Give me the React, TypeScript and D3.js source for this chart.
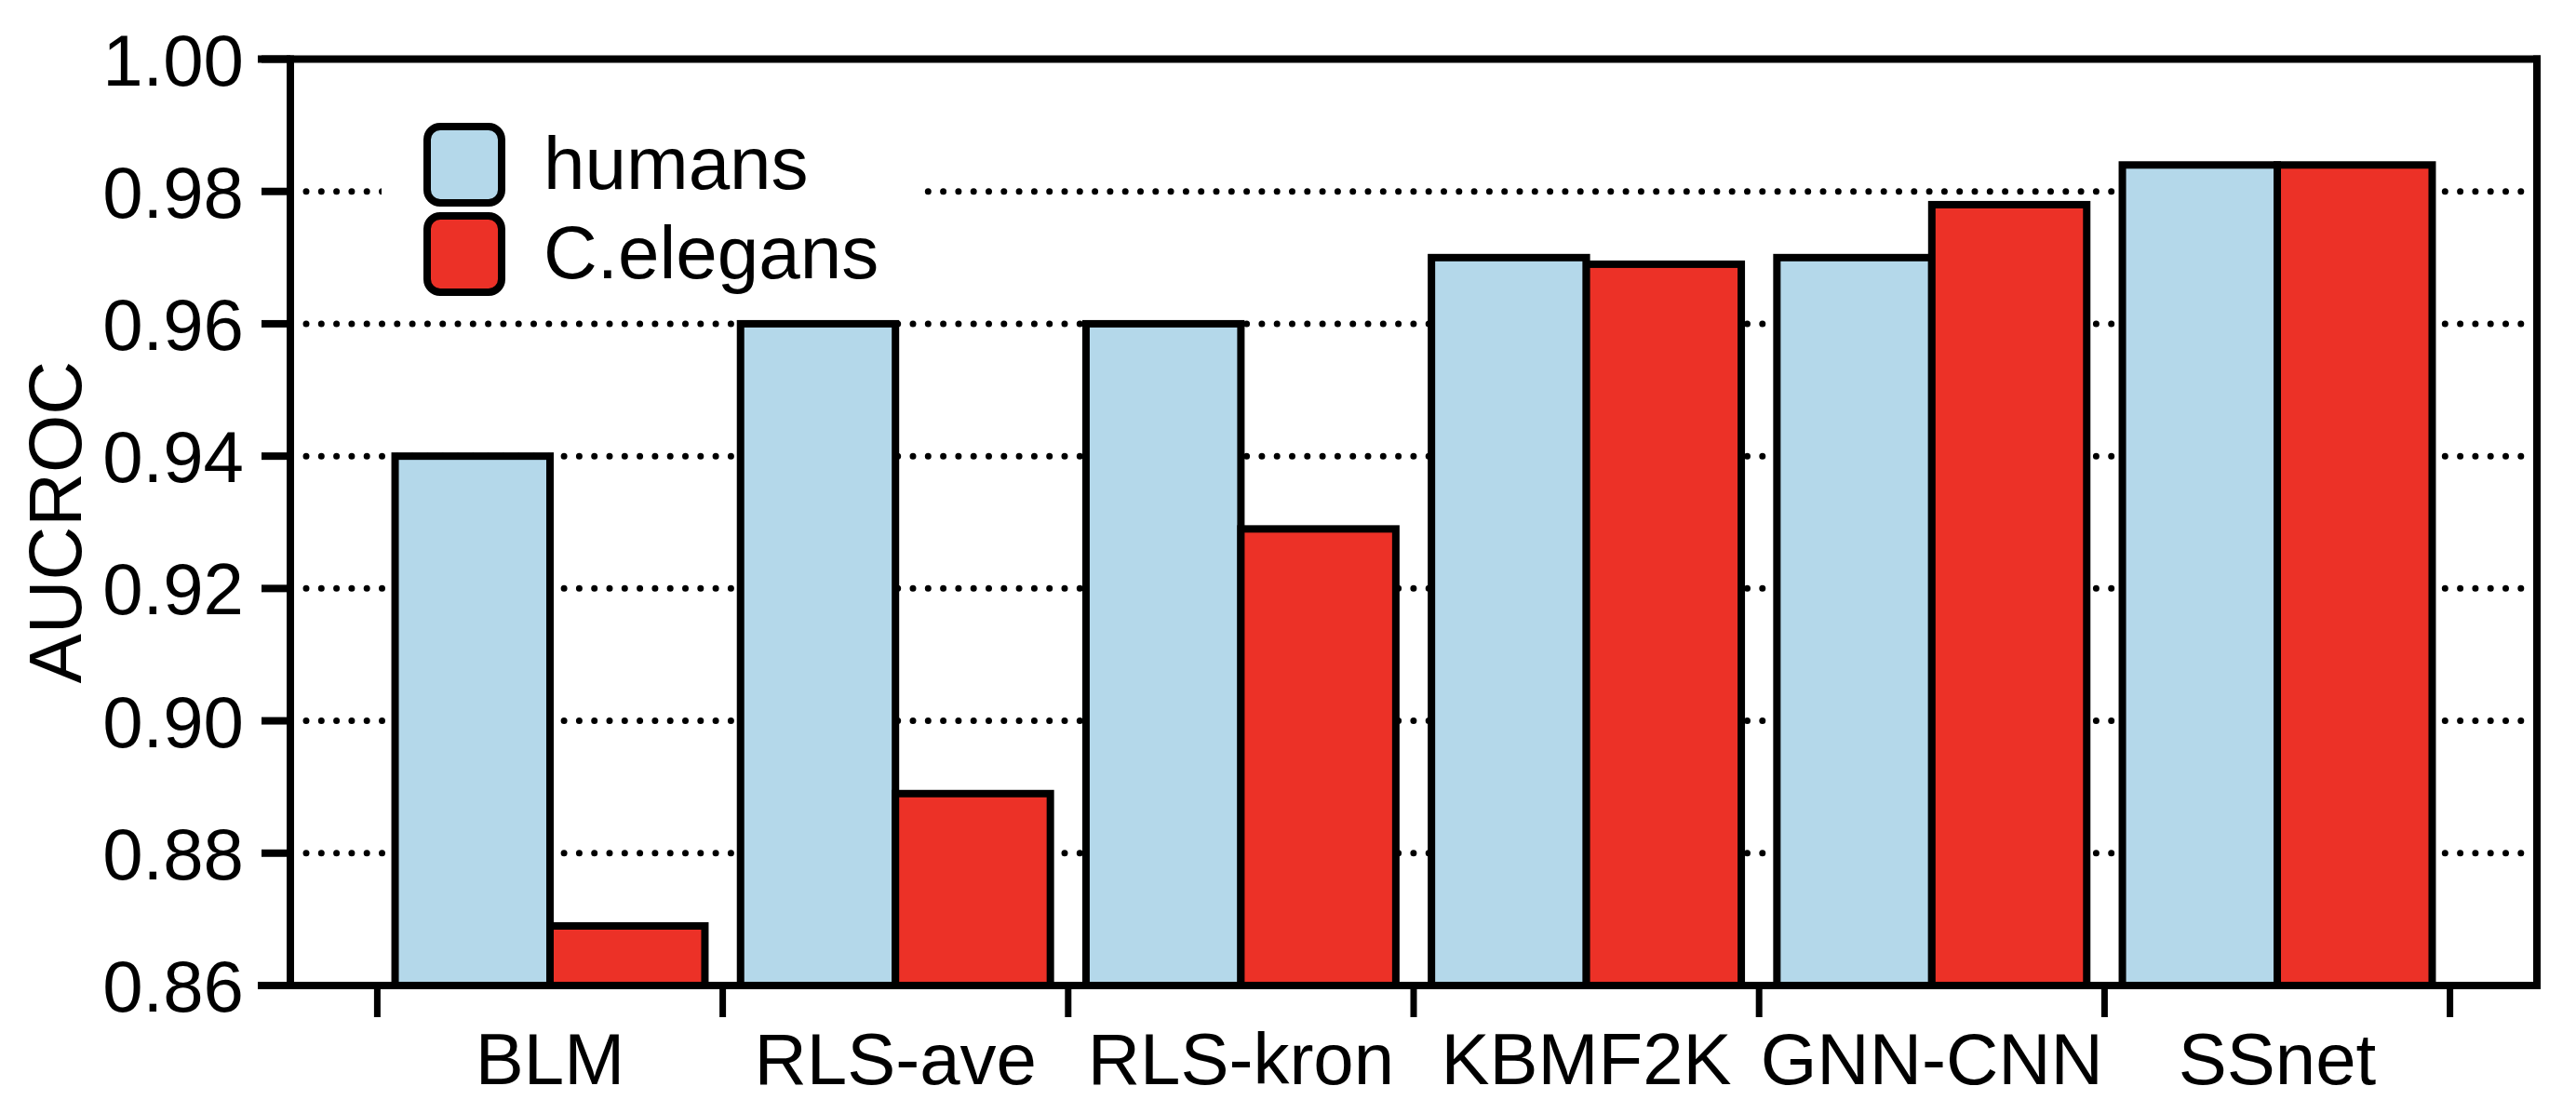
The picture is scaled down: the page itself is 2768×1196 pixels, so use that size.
import React from "react";
import * as d3 from "d3";

const categories = ["BLM", "RLS-ave", "RLS-kron", "KBMF2K", "GNN-CNN", "SSnet"];
const seriesNames = ["humans", "C.elegans"];
const humans = [0.94, 0.96, 0.96, 0.97, 0.97, 0.984];
const celegans = [0.869, 0.889, 0.929, 0.969, 0.978, 0.984];
const yTicks = [0.86, 0.88, 0.9, 0.92, 0.94, 0.96, 0.98, 1.0];
const gridTicks = [0.88, 0.9, 0.92, 0.94, 0.96, 0.98];
const colors = ["#b4d8ea", "#ec3127"];
const yLabel = "AUCROC";

const W = 2768;
const H = 1196;
const left = 312;
const right = 2726;
const top = 63.5;
const bottom = 1059;
const FONT = "'Liberation Sans', Arial, Helvetica, sans-serif";

export default function App() {
  const y = d3.scaleLinear().domain([0.86, 1.0]).range([bottom, top]);
  const x = d3
    .scaleBand<string>()
    .domain(categories)
    .range([left, right])
    .paddingInner(0)
    .paddingOuter(0.2516);
  const xi = d3
    .scaleBand<string>()
    .domain(seriesNames)
    .range([0, x.bandwidth()])
    .paddingInner(0)
    .paddingOuter(0.115);
  const series = [humans, celegans];
  const boundaries = categories.map((c) => x(c) as number).concat([(x(categories[5]) as number) + x.bandwidth()]);

  return (
    <div style={{ position: "absolute", left: 0, top: 0 }}>
      <svg width={W} height={H} style={{ display: "block", background: "#fff" }} fontFamily={FONT}>
        {/* gridlines */}
        {gridTicks.map((t) => (
          <line
            key={"g" + t}
            x1={329}
            x2={2715}
            y1={y(t)}
            y2={y(t)}
            stroke="#000"
            strokeWidth={7}
            strokeLinecap="round"
            strokeDasharray="0 16.3"
          />
        ))}
        {/* legend background */}
        <rect x={410} y={100} width={575} height={230} fill="#fff" />
        {/* bars */}
        {categories.map((c, i) => (
          <g key={c} transform={`translate(${x(c)},0)`}>
            {seriesNames.map((s, j) => (
              <rect
                key={s}
                x={xi(s)}
                y={y(series[j][i])}
                width={xi.bandwidth()}
                height={bottom - y(series[j][i])}
                fill={colors[j]}
                stroke="#000"
                strokeWidth={8}
              />
            ))}
          </g>
        ))}
        {/* frame */}
        <g stroke="#000" strokeWidth={8} strokeLinecap="square" fill="none">
          <line x1={left} x2={left} y1={top} y2={bottom} />
          <line x1={right} x2={right} y1={top} y2={bottom} />
          <line x1={281} x2={right} y1={top} y2={top} />
          <line x1={281} x2={right} y1={bottom} y2={bottom} />
        </g>
        {/* y ticks */}
        {yTicks.map((t) => (
          <g key={"y" + t}>
            <line x1={281} x2={left} y1={y(t)} y2={y(t)} stroke="#000" strokeWidth={8} />
            <text x={262} y={y(t) + 28} textAnchor="end" fontSize={78} fill="#000">
              {d3.format(".2f")(t)}
            </text>
          </g>
        ))}
        {/* x ticks */}
        {boundaries.map((b, i) => (
          <line key={"xt" + i} x1={b} x2={b} y1={bottom} y2={1093} stroke="#000" strokeWidth={7} />
        ))}
        {categories.map((c) => (
          <text
            key={"xl" + c}
            x={(x(c) as number) + x.bandwidth() / 2}
            y={1165}
            textAnchor="middle"
            fontSize={78}
            fill="#000"
          >
            {c}
          </text>
        ))}
        {/* y label */}
        <text
          transform={`translate(87,${(top + bottom) / 2}) rotate(-90)`}
          textAnchor="middle"
          fontSize={80}
          fill="#000"
        >
          {yLabel}
        </text>
        {/* legend */}
        {seriesNames.map((s, j) => (
          <g key={"lg" + s} transform={`translate(0,${j * 96})`}>
            <rect x={459} y={136} width={80} height={82} rx={14} ry={14} fill={colors[j]} stroke="#000" strokeWidth={8} />
            <text x={584} y={203} fontSize={80} fill="#000">
              {s}
            </text>
          </g>
        ))}
      </svg>
    </div>
  );
}
